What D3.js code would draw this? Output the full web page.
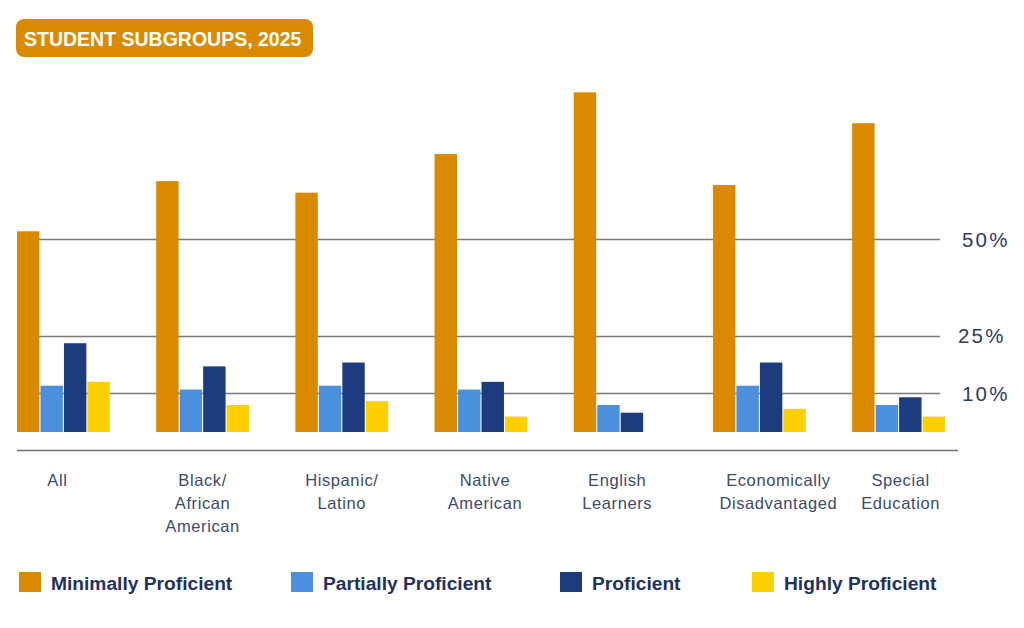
<!DOCTYPE html>
<html>
<head>
<meta charset="utf-8">
<script src="https://cdn.jsdelivr.net/npm/d3@7"></script>
<style>
  body { margin: 0; background: #fff; }
  svg { display: block; font-family: "Liberation Sans", Arial, sans-serif; }
</style>
</head>
<body>
<div id="chart"></div>
<script>
// data (percent of students)
var groups = ["All", "Black/\nAfrican\nAmerican", "Hispanic/\nLatino", "Native\nAmerican",
              "English\nLearners", "Economically\nDisadvantaged", "Special\nEducation"];
var levels = ["Minimally Proficient", "Partially Proficient", "Proficient", "Highly Proficient"];
var minimally = [52, 65, 62, 72, 88, 64, 80];
var partially = [12, 11, 12, 11, 7, 12, 7];
var proficient = [23, 17, 18, 13, 5, 18, 9];
var highly = [13, 7, 8, 4, 0, 6, 4];
var yTicks = [10, 25, 50];
var colors = ["#D98A00", "#4A90DD", "#1C3C7E", "#FFD000"];

var width = 1024, height = 628;
var series = [minimally, partially, proficient, highly];
// small nudges of the category labels, as in the original layout
var labelDx = [-6, 0, 0, 4, -3, 19, 2];

var svg = d3.select("#chart").append("svg")
    .attr("width", width)
    .attr("height", height);

// scales
var x0 = d3.scaleBand().domain(d3.range(groups.length)).range([17, 945]).paddingInner(0.333);
var x1 = d3.scaleBand().domain(d3.range(levels.length)).range([0, x0.bandwidth()]).paddingInner(0.045);
var y = d3.scaleLinear().domain([0, 50]).range([432, 239]);

// gridlines
svg.append("g").selectAll("line")
    .data(yTicks)
    .enter().append("line")
    .attr("x1", 17).attr("x2", 940)
    .attr("y1", function (d) { return Math.round(y(d)) + 0.5; })
    .attr("y2", function (d) { return Math.round(y(d)) + 0.5; })
    .attr("stroke", "#7a7a7a")
    .attr("stroke-width", 1.3);

svg.append("g").selectAll("text")
    .data(yTicks)
    .enter().append("text")
    .attr("x", function (d) { return d == 25 ? 958 : 962; })
    .attr("y", function (d) { return y(d) + 7.5; })
    .attr("fill", "#2E3B66")
    .attr("font-size", 20.5)
    .attr("letter-spacing", 2.2)
    .text(function (d) { return d + "%"; });

// baseline
svg.append("line")
    .attr("x1", 17).attr("x2", 958)
    .attr("y1", 450.5).attr("y2", 450.5)
    .attr("stroke", "#6e6e6e")
    .attr("stroke-width", 1.3);

// bars
var _groups = svg.selectAll("g.grp")
    .data(groups)
    .enter().append("g")
    .attr("class", "grp")
    .attr("transform", function (d, i) { return "translate(" + x0(i) + ",0)"; });

_groups.selectAll("rect")
    .data(function (d, i) {
        return series.map(function (s, k) { return { k: k, v: s[i] }; })
            .filter(function (b) { return b.v > 0; });
    })
    .enter().append("rect")
    .attr("x", function (d) { return x1(d.k); })
    .attr("width", x1.bandwidth())
    .attr("y", function (d) { return y(d.v); })
    .attr("height", function (d) { return y(0) - y(d.v); })
    .attr("fill", function (d) { return colors[d.k]; });

// category labels
_groups.append("text")
    .attr("y", 486)
    .attr("text-anchor", "middle")
    .attr("fill", "#3B4A6E")
    .attr("font-size", 16.5)
    .attr("letter-spacing", 0.6)
    .selectAll("tspan")
    .data(function (d, i) {
        return d.split("\n").map(function (t) { return { t: t, dx: labelDx[i] }; });
    })
    .enter().append("tspan")
    .attr("x", function (d) { return x0.bandwidth() / 2 + d.dx; })
    .attr("dy", function (d, i) { return i == 0 ? 0 : 23; })
    .text(function (d) { return d.t; });

// title badge
svg.append("rect")
    .attr("x", 16).attr("y", 19)
    .attr("width", 297).attr("height", 38)
    .attr("rx", 8)
    .attr("fill", "#D98A00");
svg.append("text")
    .attr("x", 24).attr("y", 45.5)
    .attr("fill", "#fff")
    .attr("font-weight", "bold")
    .attr("font-size", 19.5)
    .text("STUDENT SUBGROUPS, 2025");

// legend
var legendX = [19, 291, 560, 752];
var _legend = svg.selectAll("g.leg")
    .data(levels)
    .enter().append("g")
    .attr("class", "leg")
    .attr("transform", function (d, i) { return "translate(" + legendX[i] + ",572)"; });
_legend.append("rect")
    .attr("width", 22).attr("height", 20)
    .attr("fill", function (d, i) { return colors[i]; });
_legend.append("text")
    .attr("x", 32).attr("y", 18)
    .attr("fill", "#22315E")
    .attr("font-weight", "bold")
    .attr("font-size", 19.2)
    .text(function (d) { return d; });
</script>
</body>
</html>
